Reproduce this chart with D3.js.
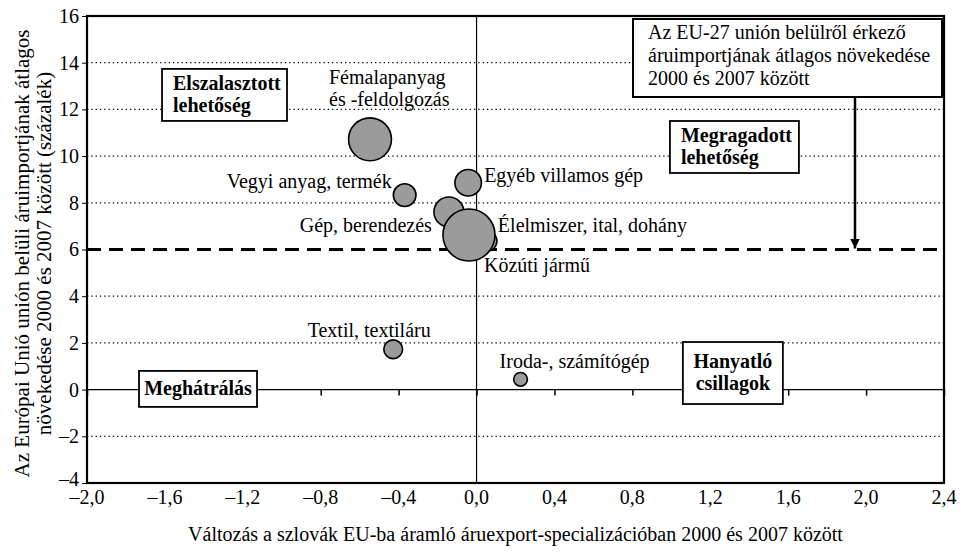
<!DOCTYPE html>
<html>
<head>
<meta charset="utf-8">
<script src="https://cdn.jsdelivr.net/npm/d3@7"></script>
<style>
  body { margin: 0; background: #fff; }
  svg, svg text { font-family: "Liberation Serif", "Times New Roman", serif; }
</style>
</head>
<body>
<svg id="chart"></svg>
<script>
const WIDTH = 961;
const HEIGHT = 555;
const MARGIN = { top: 16, right: 17, bottom: 72, left: 87 };

// product groups (drawn in this order, the big one on top)
const products = ['Fémalapanyag és -feldolgozás', 'Vegyi anyag, termék', 'Egyéb villamos gép',
  'Gép, berendezés', 'Élelmiszer, ital, dohány', 'Textil, textiláru', 'Iroda-, számítógép', 'Közúti jármű'];
const exportChange = [-0.547, -0.369, -0.043, -0.142, 0.053, -0.428, 0.226, -0.039];
const importGrowth = [10.72, 8.33, 8.86, 7.61, 6.36, 1.73, 0.44, 6.62];
const tradeWeight = [68, 19, 26, 33, 15, 13, 7, 100];

const xTicks = [-2.0, -1.6, -1.2, -0.8, -0.4, 0.0, 0.4, 0.8, 1.2, 1.6, 2.0, 2.4];
const yTicks = [-4, -2, 0, 2, 4, 6, 8, 10, 12, 14, 16];
const EU_AVG = 6;

const xTitle = 'Változás a szlovák EU-ba áramló áruexport-specializációban 2000 és 2007 között';
const yTitle = ['Az Európai Unió unión belüli áruimportjának átlagos', 'növekedése 2000 és 2007 között (százalék)'];
const noteLines = ['Az EU-27 unión belülről érkező', 'áruimportjának átlagos növekedése', '2000 és 2007 között'];

// label placement relative to the bubble centre (px)
const labelPlace = [
  { dx: -41, dy: -55, anchor: 'start', lines: ['Fémalapanyag', 'és -feldolgozás'] },
  { dx: -13, dy: -7, anchor: 'end' },
  { dx: 16, dy: -1, anchor: 'start' },
  { dx: -17, dy: 20, anchor: 'end' },
  { dx: 11, dy: -9, anchor: 'start' },
  { dx: -24, dy: -12, anchor: 'middle' },
  { dx: -21, dy: -11, anchor: 'start' },
  { dx: 15, dy: 37, anchor: 'start' }
];

// quadrant boxes: centre in data units, size in px
const quadrants = [
  { x: -1.294, y: 12.62, w: 125, h: 52, lines: ['Elszalasztott', 'lehetőség'], align: 'start' },
  { x: 1.324, y: 10.39, w: 129, h: 52, lines: ['Megragadott', 'lehetőség'], align: 'start' },
  { x: -1.43, y: 0.03, w: 118, h: 36, lines: ['Meghátrálás'], align: 'middle' },
  { x: 1.316, y: 0.71, w: 100, h: 62, lines: ['Hanyatló', 'csillagok'], align: 'middle' }
];

const FONT = 20;
const fmt = v => (v < 0 ? '\u2013' : '') + d3.format('.1f')(Math.abs(v)).replace('.', ',');
const fmtY = v => (v < 0 ? '\u2013' : '') + Math.abs(v);

const svg = d3.select('#chart').attr('width', WIDTH).attr('height', HEIGHT);

const x = d3.scaleLinear().domain([-2.0, 2.4]).range([MARGIN.left, WIDTH - MARGIN.right]);
const y = d3.scaleLinear().domain([-4, 16]).range([HEIGHT - MARGIN.bottom, MARGIN.top]);
const r = d3.scaleSqrt().domain([0, 100]).range([0, 26]);

svg.append('defs').append('marker')
  .attr('id', 'arrow')
  .attr('viewBox', '0 0 10 10')
  .attr('refX', 10).attr('refY', 5)
  .attr('markerWidth', 4).attr('markerHeight', 4)
  .attr('orient', 'auto')
  .append('path').attr('d', 'M0,0L10,5L0,10Z').attr('fill', '#000');

// dotted grid
svg.append('g')
  .selectAll('line')
  .data(yTicks.filter(v => v !== 0 && v !== EU_AVG && v !== 16 && v !== -4))
  .enter().append('line')
  .attr('x1', x(-2.0)).attr('x2', x(2.4))
  .attr('y1', d => y(d)).attr('y2', d => y(d))
  .attr('stroke', '#000').attr('stroke-width', 1.2)
  .attr('stroke-dasharray', '1.3,3');

// zero lines
svg.append('line')
  .attr('x1', x(-2.0)).attr('x2', x(2.4)).attr('y1', y(0)).attr('y2', y(0))
  .attr('stroke', '#000').attr('stroke-width', 1.2);
svg.append('line')
  .attr('x1', x(0)).attr('x2', x(0)).attr('y1', y(16)).attr('y2', y(-4))
  .attr('stroke', '#000').attr('stroke-width', 1.2);

// x axis sits on the zero line, ticks point down, labels below the frame
const xAxis = svg.append('g')
  .attr('transform', `translate(0,${y(0)})`)
  .call(d3.axisBottom(x).tickValues(xTicks).tickSize(6).tickFormat(''));
xAxis.select('.domain').remove();
xAxis.selectAll('line').attr('stroke-width', 1.5);

svg.append('g')
  .selectAll('text')
  .data(xTicks)
  .enter().append('text')
  .attr('x', d => x(d)).attr('y', HEIGHT - MARGIN.bottom + 21)
  .attr('text-anchor', 'middle')
  .attr('font-size', FONT)
  .text(fmt);

const yAxis = svg.append('g')
  .attr('transform', `translate(${MARGIN.left},0)`)
  .call(d3.axisLeft(y).tickValues(yTicks).tickSize(5).tickPadding(3).tickFormat(fmtY));
yAxis.select('.domain').remove();
yAxis.attr('font-family', null).attr('font-size', null);
yAxis.selectAll('text').attr('font-size', FONT).attr('fill', '#000');
yAxis.selectAll('.tick').filter(d => d === -4).select('text').attr('dy', '0.1em');

// EU average dashed line
svg.append('line')
  .attr('x1', x(-2.0)).attr('x2', x(2.4)).attr('y1', y(EU_AVG)).attr('y2', y(EU_AVG))
  .attr('stroke', '#000').attr('stroke-width', 3)
  .attr('stroke-dasharray', '14,8');

// frame
svg.append('rect')
  .attr('x', x(-2.0)).attr('y', y(16))
  .attr('width', x(2.4) - x(-2.0)).attr('height', y(-4) - y(16))
  .attr('fill', 'none').attr('stroke', '#000').attr('stroke-width', 2.2);

// quadrant boxes
const quad = svg.append('g').selectAll('g')
  .data(quadrants)
  .enter().append('g')
  .attr('transform', d => `translate(${x(d.x)},${y(d.y)})`);

quad.append('rect')
  .attr('x', d => -d.w / 2).attr('y', d => -d.h / 2)
  .attr('width', d => d.w).attr('height', d => d.h)
  .attr('fill', '#fff').attr('stroke', '#000').attr('stroke-width', 1.8);

quad.each(function(d) {
  const g = d3.select(this);
  const lh = 22;
  const y0 = -((d.lines.length - 1) * lh) / 2 + 6;
  d.lines.forEach((t, i) => {
    g.append('text')
      .attr('x', d.align === 'middle' ? 0 : -d.w / 2 + 11)
      .attr('y', y0 + i * lh)
      .attr('text-anchor', d.align)
      .attr('font-size', FONT).attr('font-weight', 'bold')
      .text(t);
  });
});

// note box with arrow to the average line
const noteX = x(2.4) - 2 - 309;
svg.append('rect')
  .attr('x', noteX).attr('y', y(16) + 3)
  .attr('width', 309).attr('height', 78)
  .attr('fill', '#fff').attr('stroke', '#000').attr('stroke-width', 2);
noteLines.forEach((t, i) => {
  svg.append('text')
    .attr('x', noteX + 15).attr('y', y(16) + 23 + i * 23)
    .attr('font-size', FONT)
    .text(t);
});
svg.append('line')
  .attr('x1', x(1.943)).attr('x2', x(1.943))
  .attr('y1', y(16) + 81).attr('y2', y(EU_AVG) - 1)
  .attr('stroke', '#000').attr('stroke-width', 2.5)
  .attr('marker-end', 'url(#arrow)');

// bubbles
const bubbles = products.map((name, i) => ({
  name, ex: exportChange[i], im: importGrowth[i], w: tradeWeight[i], lab: labelPlace[i]
}));

svg.append('g')
  .selectAll('circle')
  .data(bubbles)
  .enter().append('circle')
  .attr('cx', d => x(d.ex)).attr('cy', d => y(d.im))
  .attr('r', d => r(d.w))
  .attr('fill', '#9b9b9b').attr('stroke', '#000').attr('stroke-width', 1.6);

const labels = svg.append('g')
  .selectAll('text')
  .data(bubbles)
  .enter().append('text')
  .attr('x', d => x(d.ex) + d.lab.dx).attr('y', d => y(d.im) + d.lab.dy)
  .attr('text-anchor', d => d.lab.anchor)
  .attr('font-size', FONT);

labels.each(function(d) {
  const t = d3.select(this);
  if (d.lab.lines) {
    d.lab.lines.forEach((s, i) => {
      t.append('tspan').attr('x', x(d.ex) + d.lab.dx).attr('dy', i ? 22 : 0).text(s);
    });
  } else {
    t.text(d.name);
  }
});

// axis titles
svg.append('text')
  .attr('x', (x(-2.0) + x(2.4)) / 2).attr('y', HEIGHT - 14)
  .attr('text-anchor', 'middle').attr('font-size', FONT)
  .text(xTitle);

yTitle.forEach((t, i) => {
  svg.append('text')
    .attr('transform', `translate(${29 + i * 22},${(y(16) + y(-4)) / 2 + 4}) rotate(-90)`)
    .attr('text-anchor', 'middle').attr('font-size', 21)
    .text(t);
});
</script>
</body>
</html>
